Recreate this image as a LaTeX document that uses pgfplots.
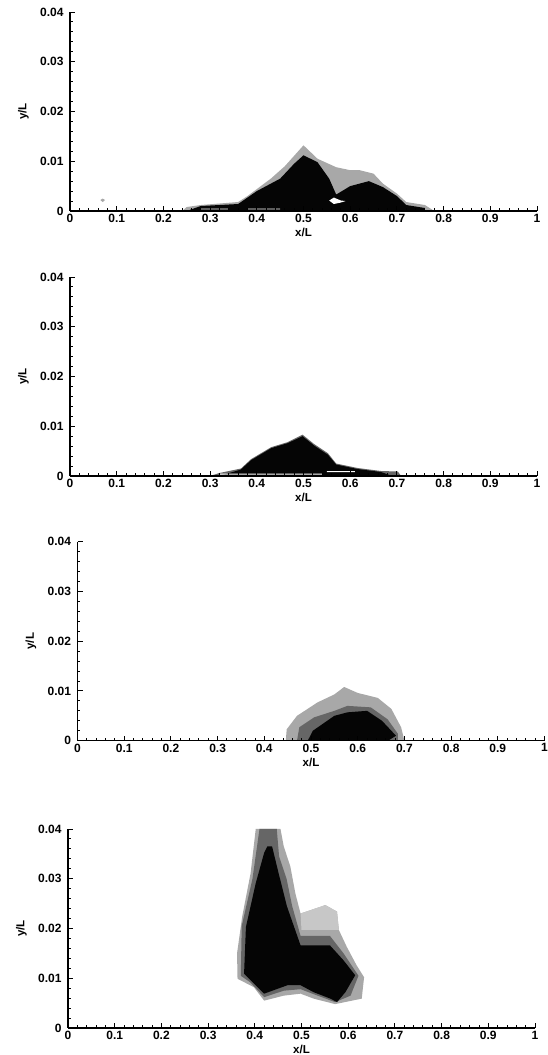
\documentclass[border=0pt]{standalone}
\usepackage{pgfplots}
\pgfplotsset{compat=1.18}
\usepackage{fontspec}
\setmainfont{Liberation Sans}
\definecolor{lt}{gray}{0.66}
\definecolor{lp}{gray}{0.78}
\definecolor{md}{gray}{0.40}
\definecolor{dk}{gray}{0.02}
\pgfplotsset{panel/.style={
  scale only axis, width=467pt, height=199pt,
  xmin=0,xmax=1,ymin=0,ymax=0.04,
  axis x line=bottom, axis y line=left,
  axis line style={-,line width=1.4pt,black},
  tick style={black,line width=0.9pt},
  tick align=inside,
  major tick length=5pt, minor tick length=2.5pt,
  xtick={0,0.1,0.2,0.3,0.4,0.5,0.6,0.7,0.8,0.9,1}, ytick={0,0.01,0.02,0.03,0.04},
  minor x tick num=4, minor y tick num=4,
  scaled ticks=false,
  xticklabels={0,0.1,0.2,0.3,0.4,0.5,0.6,0.7,0.8,0.9,1},
  yticklabels={0,0.01,0.02,0.03,0.04},
  tick label style={font=\fontsize{12}{13}\selectfont\bfseries},
  xticklabel style={yshift=0.5pt}, yticklabel style={xshift=-3pt},
  xlabel={x/L}, ylabel={y/L},
  every axis x label/.style={at={(axis description cs:0.5,-0.11)},anchor=center,font=\fontsize{11.5}{12}\selectfont\bfseries},
  every axis y label/.style={at={(axis description cs:-0.1,0.5)},rotate=90,anchor=center,font=\fontsize{11.5}{12}\selectfont\bfseries},
  clip=true, axis on top=true,
}}
\begin{document}
\begin{tikzpicture}[x=1pt,y=1pt]
\useasboundingbox (0,0) rectangle (547,1055);
% Panel 1
\begin{axis}[panel, at={(70pt,844pt)}]
\addplot[fill=lt,draw=none] coordinates {(0.24,0)(0.25,0.0008)(0.28,0.0012)(0.36,0.0018)(0.38,0.003)(0.43,0.0065)(0.46,0.009)(0.5,0.0132)(0.53,0.0105)(0.57,0.0088)(0.6,0.0082)(0.62,0.0082)(0.65,0.0075)(0.67,0.0055)(0.7,0.0035)(0.72,0.0018)(0.76,0.0012)(0.78,0)} \closedcycle;
\addplot[fill=dk,draw=none] coordinates {(0.25,0)(0.28,0.001)(0.36,0.0014)(0.38,0.0027)(0.4,0.004)(0.45,0.0065)(0.48,0.0095)(0.5,0.0112)(0.53,0.0098)(0.555,0.0065)(0.57,0.0033)(0.6,0.005)(0.64,0.006)(0.67,0.0048)(0.7,0.003)(0.72,0.0012)(0.76,0.0006)(0.76,0)} \closedcycle;
\addplot[fill=white,draw=none] coordinates {(0.555,0.0021)(0.565,0.0027)(0.58,0.0021)(0.59,0.002)(0.58,0.0017)(0.565,0.0014)(0.555,0.0021)};
\addplot[fill=white,draw=none] coordinates {(0.38,0.0005)(0.45,0.0005)(0.45,0.0003)(0.38,0.0003)(0.38,0.0005)};
\addplot[fill=white,draw=none] coordinates {(0.28,0.0005)(0.34,0.0005)(0.34,0.0003)(0.28,0.0003)(0.28,0.0005)};
\addplot[fill=lt,draw=none] coordinates {(0.065,0.0022)(0.07,0.0025)(0.075,0.0022)(0.07,0.0018)(0.065,0.0022)};
\end{axis}
% Panel 2
\begin{axis}[panel, at={(70pt,579pt)}]
\addplot[fill=md,draw=none] coordinates {(0.3,0)(0.32,0.0006)(0.366,0.0015)(0.388,0.0034)(0.431,0.0058)(0.466,0.0068)(0.498,0.0083)(0.523,0.0064)(0.552,0.0046)(0.57,0.0025)(0.616,0.0016)(0.666,0.001)(0.702,0.0009)(0.709,0)} \closedcycle;
\addplot[fill=dk,draw=none] coordinates {(0.32,0)(0.366,0.0013)(0.388,0.0032)(0.431,0.0056)(0.466,0.0066)(0.498,0.008)(0.523,0.0061)(0.552,0.0043)(0.57,0.0023)(0.616,0.0014)(0.666,0.0008)(0.69,0)} \closedcycle;
\addplot[fill=white,draw=none] coordinates {(0.55,0.001)(0.61,0.001)(0.61,0.0008)(0.55,0.0008)(0.55,0.001)};
\addplot[fill=white,draw=none] coordinates {(0.32,0.0005)(0.54,0.0005)(0.54,0.0003)(0.32,0.0003)(0.32,0.0005)};
\end{axis}
% Panel 3
\begin{axis}[panel, at={(77.5pt,314.3pt)}]
\addplot[fill=lt,draw=none] coordinates {(0.446,0)(0.448,0.0023)(0.47,0.005)(0.514,0.0077)(0.55,0.0093)(0.571,0.0108)(0.6,0.0096)(0.643,0.0086)(0.672,0.0064)(0.693,0.0027)(0.7,0)} \closedcycle;
\addplot[fill=md,draw=none] coordinates {(0.47,0)(0.475,0.0027)(0.507,0.0047)(0.55,0.006)(0.578,0.007)(0.628,0.0067)(0.664,0.0043)(0.686,0.0014)(0.686,0)} \closedcycle;
\addplot[fill=dk,draw=none] coordinates {(0.493,0)(0.504,0.002)(0.55,0.005)(0.578,0.0057)(0.62,0.006)(0.652,0.004)(0.682,0.001)(0.665,0)} \closedcycle;
\end{axis}
% Panel 4
\begin{axis}[panel, at={(68pt,27pt)}]
\addplot[fill=lt,draw=none] coordinates {(0.402,0.04)(0.455,0.04)(0.462,0.0365)(0.476,0.0325)(0.487,0.027)(0.498,0.023)(0.551,0.0247)(0.576,0.0234)(0.58,0.0197)(0.597,0.0163)(0.618,0.0126)(0.634,0.0102)(0.629,0.0059)(0.572,0.0048)(0.526,0.0059)(0.498,0.0069)(0.462,0.0065)(0.42,0.0055)(0.398,0.0082)(0.363,0.0099)(0.362,0.015)(0.373,0.0224)(0.391,0.0311)(0.402,0.04)};
\addplot[fill=lp,draw=none] coordinates {(0.498,0.023)(0.551,0.0247)(0.576,0.0234)(0.58,0.0197)(0.5,0.0197)(0.498,0.023)};
\addplot[fill=md,draw=none] coordinates {(0.41,0.04)(0.447,0.04)(0.452,0.0345)(0.468,0.03)(0.48,0.0245)(0.498,0.0185)(0.561,0.0185)(0.59,0.015)(0.622,0.0105)(0.605,0.0065)(0.572,0.0052)(0.526,0.0068)(0.498,0.0078)(0.462,0.0075)(0.42,0.0062)(0.39,0.0092)(0.37,0.0105)(0.372,0.0205)(0.395,0.03)(0.41,0.04)};
\addplot[fill=dk,draw=none] coordinates {(0.427,0.0365)(0.437,0.0365)(0.451,0.0311)(0.469,0.0244)(0.498,0.0166)(0.561,0.0166)(0.59,0.0136)(0.615,0.0106)(0.594,0.0072)(0.576,0.0052)(0.562,0.0059)(0.526,0.0072)(0.498,0.0086)(0.47,0.0086)(0.42,0.0069)(0.391,0.0096)(0.377,0.0109)(0.381,0.0203)(0.402,0.0291)(0.42,0.0352)(0.427,0.0365)};
\end{axis}
\end{tikzpicture}
\end{document}
